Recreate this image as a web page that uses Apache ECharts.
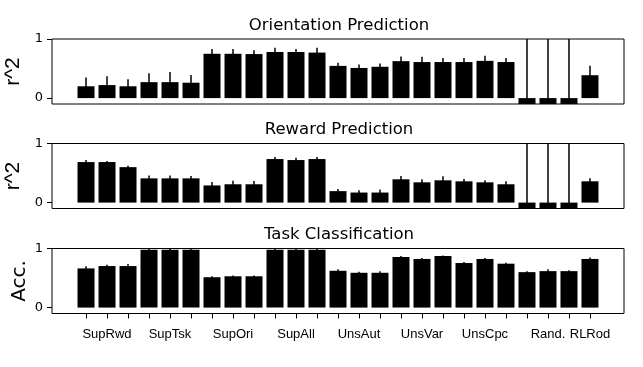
<!DOCTYPE html>
<html><head><meta charset="utf-8">
<script src="https://cdn.jsdelivr.net/npm/echarts@6/dist/echarts.min.js"></script>
<style>html,body{margin:0;padding:0;background:#fff}#c{width:643px;height:367px}</style>
</head><body><div id="c"></div>
<script>
// Group tick labels (3 bars per group, RLRod single bar)
const groupLabels = ['SupRwd','SupTsk','SupOri','SupAll','UnsAut','UnsVar','UnsCpc','Rand.','RLRod'];
const groupSizes  = [3,3,3,3,3,3,3,3,1];

// Orientation Prediction (r^2) means and errors
const oriMean = [0.20,0.22,0.20, 0.27,0.27,0.26, 0.75,0.75,0.745, 0.78,0.78,0.77, 0.545,0.51,0.53, 0.625,0.61,0.61, 0.61,0.63,0.61, -2.0,-2.0,-2.0, 0.387];
const oriErr  = [0.15,0.15,0.12, 0.15,0.17,0.13, 0.08,0.08,0.065, 0.07,0.05,0.08, 0.055,0.06,0.055, 0.08,0.09,0.07, 0.07,0.085,0.07, 4.0,4.0,4.0, 0.16];

// Reward Prediction (r^2)
const rwdMean = [0.686,0.686,0.60, 0.41,0.41,0.41, 0.29,0.31,0.31, 0.737,0.72,0.737, 0.194,0.17,0.17, 0.394,0.343,0.377, 0.36,0.343,0.31, -2.0,-2.0,-2.0, 0.36];
const rwdErr  = [0.034,0.017,0.023, 0.05,0.05,0.04, 0.06,0.06,0.055, 0.035,0.04,0.035, 0.035,0.04,0.05, 0.055,0.05,0.07, 0.04,0.034,0.05, 4.0,4.0,4.0, 0.05];

// Task Classification (Acc.)
const tskMean = [0.663,0.703,0.703, 0.977,0.977,0.977, 0.514,0.53,0.53, 0.977,0.977,0.977, 0.623,0.589,0.589, 0.857,0.823,0.874, 0.754,0.823,0.743, 0.60,0.617,0.617, 0.823];
const tskErr  = [0.035,0.023,0.034, 0.02,0.02,0.02, 0.017,0.012,0.012, 0.02,0.02,0.02, 0.027,0.017,0.028, 0.017,0.017,0.006, 0.016,0.017,0.017, 0.017,0.033,0.017, 0.023];

const titles = ['Orientation Prediction','Reward Prediction','Task Classification'];
const yNames = ['r^2','r^2','Acc.'];
const yTicks = [0, 1];

const panels = [[oriMean,oriErr],[rwdMean,rwdErr],[tskMean,tskErr]];
const nBars = oriMean.length;
const xs = Array.from({length:nBars},(_,i)=>i);

// one category per bar; the group name sits on the centre bar of each group
const barCats = [];
groupSizes.forEach((s,g)=>{ const c = Math.floor((s-1)/2); for(let j=0;j<s;j++) barCats.push(j===c?groupLabels[g]:''); });

const tops = [39, 143.5, 248.5];
const H = 65;
const nameStyles = [
  {fontFamily:'Liberation Sans', fontSize:21, color:'#000'},
  {fontFamily:'Liberation Sans', fontSize:21, color:'#000'},
  {fontFamily:'DejaVu Sans', fontSize:20, color:'#000'}
];
const nameGaps = [28, 28, 22];
const chart = echarts.init(document.getElementById('c'));
const grid=[], xAxis=[], yAxis=[], series=[], title=[];
const XMIN=-1.62, XMAX=25.62;
const L=52, W=572;
panels.forEach((pn,k)=>{
  grid.push({left:L, top:tops[k], width:W, height:H, show:true, borderColor:'#000', borderWidth:1,
    backgroundColor:'transparent', containLabel:false, outerBoundsMode:'none'});
  title.push({text:titles[k], left:334, textAlign:'center', top:tops[k]-27, textStyle:{fontFamily:'DejaVu Sans', fontSize:16.5, fontWeight:'normal', color:'#000'}});
  xAxis.push({type:'value', gridIndex:k, min:XMIN, max:XMAX, splitLine:{show:false},
    axisLine:{show:false, onZero:false}, axisTick:{show:false}, axisLabel:{show:false}});
  yAxis.push({type:'value', gridIndex:k, min:-0.1, max:1, splitLine:{show:false},
    name:yNames[k], nameLocation:'middle', nameRotate:90, nameGap:nameGaps[k], nameMoveOverlap:false,
    nameTextStyle:nameStyles[k],
    axisLine:{show:false, onZero:false},
    axisTick:{show:true, length:5, customValues:yTicks, lineStyle:{color:'#000'}},
    axisLabel:{customValues:yTicks, margin:9, fontFamily:'DejaVu Sans', fontSize:13, color:'#000'}});
  series.push({type:'bar', xAxisIndex:k, yAxisIndex:k, barWidth:17, clip:true,
    itemStyle:{color:'#000'}, data: pn[0].map((v,i)=>[xs[i], v]), silent:true, animation:false});
  series.push({type:'custom', xAxisIndex:k, yAxisIndex:k, clip:true, animation:false, silent:true,
    data: pn[0].map((v,i)=>[xs[i], v, pn[1][i]]),
    renderItem:(params, api)=>{
      const x=api.value(0), y=api.value(1), e=api.value(2);
      const p1=api.coord([x, y-e]), p2=api.coord([x, y+e]);
      const cs=params.coordSys;
      const y1=Math.min(Math.max(p1[1], cs.y), cs.y+cs.height);
      const y2=Math.min(Math.max(p2[1], cs.y), cs.y+cs.height);
      return {type:'line', shape:{x1:p1[0], y1:y1, x2:p2[0], y2:y2}, style:{stroke:'#000', lineWidth:1.5}};
    }});
});
// category axis carrying one tick per bar and the group names, aligned with the bar positions
const unit = W/(XMAX-XMIN);
grid.push({left:L+(-0.5-XMIN)*unit, top:tops[2], width:nBars*unit, height:H, show:false, containLabel:false, outerBoundsMode:'none'});
xAxis.push({type:'category', gridIndex:3, data:barCats, boundaryGap:true,
  axisLine:{show:false, onZero:false},
  axisTick:{show:true, alignWithLabel:true, interval:0, length:5, lineStyle:{color:'#000'}},
  axisLabel:{interval:0, margin:14, fontFamily:'Liberation Sans', fontSize:13, color:'#000', hideOverlap:false}});
yAxis.push({type:'value', gridIndex:3, min:-0.1, max:1, show:false});
chart.setOption({animation:false, backgroundColor:'#fff', title, grid, xAxis, yAxis, series});
</script></body></html>
